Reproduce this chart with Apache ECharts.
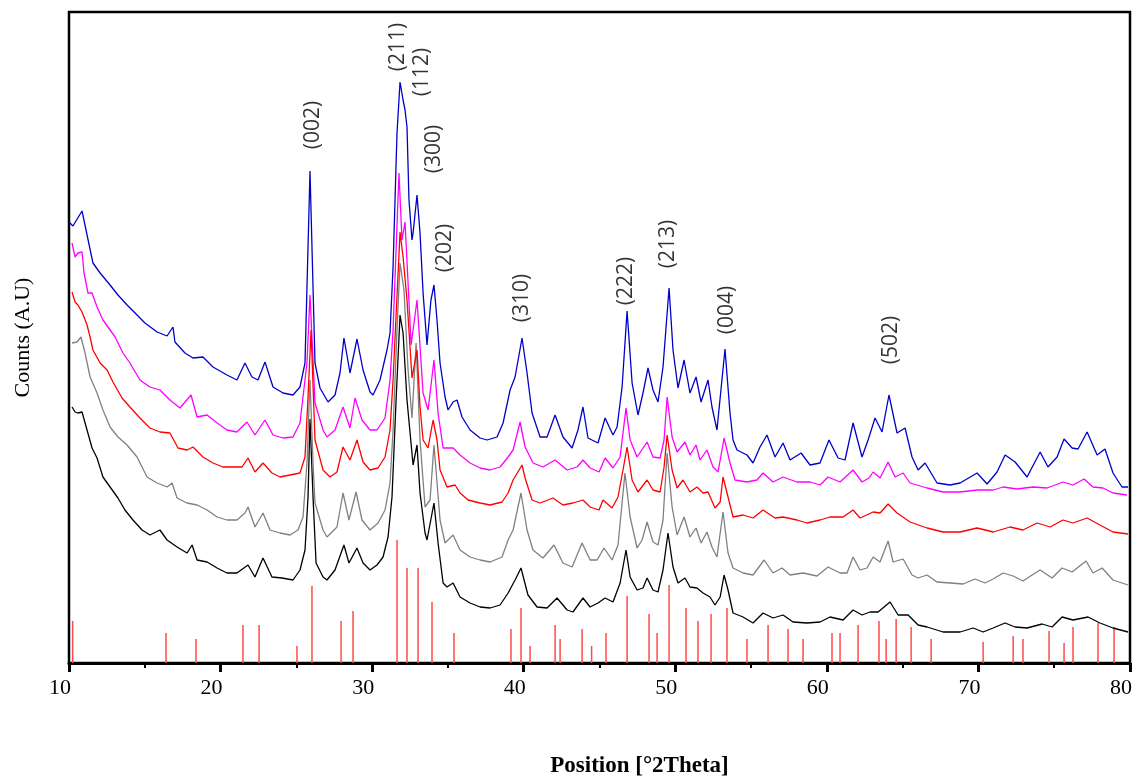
<!DOCTYPE html>
<html>
<head>
<meta charset="utf-8">
<script src="https://cdn.jsdelivr.net/npm/echarts@6/dist/echarts.min.js"></script>
<style>html,body{margin:0;padding:0;background:#fff}#c{width:1136px;height:781px}</style>
</head>
<body>
<div id="c"></div>
<script>
// x: 2Theta (deg), y: counts (arbitrary units, offset traces)
const blueCurve = [[10.0,441],[10.26,437],[10.86,452],[11.58,400],[12.05,390],[12.71,378],[13.23,368],[13.83,358],[14.49,348],[15.01,340],[15.81,331],[16.47,327],[16.86,336],[16.99,321],[17.65,310],[18.18,305],[18.84,306],[19.5,296],[20.42,288],[21.08,283],[21.61,300],[22.07,286],[22.47,283],[22.93,301],[23.46,276],[24.12,270],[24.78,268],[25.24,276],[25.57,300],[25.9,492],[26.23,300],[26.56,275],[27.09,261],[27.55,268],[27.88,290],[28.14,325],[28.54,290],[29.0,324],[29.4,293],[29.86,271],[30.06,268],[30.52,283],[30.98,313],[31.18,330],[31.38,396],[31.64,530],[31.84,581],[32.04,563],[32.17,553],[32.3,536],[32.43,463],[32.63,423],[32.7,430],[32.96,468],[33.16,430],[33.36,370],[33.62,318],[33.88,363],[34.08,378],[34.28,343],[34.48,300],[34.81,266],[35.01,253],[35.34,261],[35.6,263],[35.93,246],[36.46,233],[37.12,225],[37.58,223],[38.24,226],[38.64,240],[39.1,273],[39.43,286],[39.89,325],[40.22,290],[40.55,250],[41.08,226],[41.54,226],[42.07,248],[42.59,226],[43.19,215],[43.58,233],[43.91,256],[44.24,225],[44.9,220],[45.37,245],[45.89,228],[46.16,236],[46.49,276],[46.82,352],[47.15,280],[47.54,248],[47.87,270],[48.2,295],[48.53,273],[48.86,261],[49.19,296],[49.59,375],[49.85,313],[50.18,275],[50.58,303],[50.97,270],[51.37,286],[51.7,261],[52.16,283],[52.42,256],[52.75,233],[53.28,314],[53.61,250],[53.81,223],[54.07,213],[54.73,208],[55.13,200],[55.59,216],[56.05,228],[56.58,206],[57.11,220],[57.57,203],[58.3,210],[58.89,198],[59.55,200],[60.14,223],[60.74,205],[61.2,203],[61.73,240],[62.32,206],[62.72,223],[63.18,245],[63.64,231],[64.1,268],[64.63,230],[65.16,235],[65.62,206],[66.02,193],[66.48,200],[67.27,180],[68.13,178],[68.79,180],[69.91,190],[70.57,179],[71.23,191],[71.76,208],[72.42,201],[73.21,186],[74.07,211],[74.59,196],[75.19,206],[75.65,224],[76.18,215],[76.57,214],[77.17,231],[77.83,208],[78.35,214],[78.88,190],[79.47,176],[79.87,176]];

const magentaCurve = [[10.2,420],[10.4,406],[10.59,410],[10.86,411],[10.99,390],[11.25,370],[11.52,370],[11.85,356],[12.24,343],[12.71,333],[13.04,326],[13.56,310],[14.02,300],[14.68,283],[15.34,276],[16.0,273],[16.66,263],[17.32,255],[18.05,268],[18.45,246],[19.11,248],[19.77,240],[20.42,233],[21.08,231],[21.74,241],[22.27,228],[22.93,243],[23.46,228],[24.12,225],[24.78,226],[25.24,240],[25.7,300],[25.9,368],[26.23,260],[26.76,233],[27.02,226],[27.55,233],[28.08,256],[28.54,235],[28.87,265],[29.33,243],[29.86,233],[30.32,233],[30.85,245],[31.18,283],[31.38,333],[31.77,490],[31.97,423],[32.17,441],[32.37,380],[32.57,318],[32.96,363],[33.36,270],[33.69,253],[34.08,303],[34.35,250],[34.68,215],[35.34,215],[35.8,208],[36.46,200],[37.12,195],[37.78,193],[38.44,196],[38.97,206],[39.3,213],[39.76,241],[40.09,216],[40.62,200],[41.27,196],[42.07,203],[42.86,193],[43.52,196],[43.91,203],[44.38,195],[44.97,191],[45.37,205],[45.89,195],[46.36,206],[46.55,230],[46.75,255],[47.02,223],[47.48,206],[48.14,221],[48.53,206],[49.0,205],[49.26,223],[49.46,266],[49.79,226],[50.12,211],[50.64,221],[50.97,208],[51.37,218],[51.63,203],[52.09,213],[52.49,196],[52.82,191],[53.22,225],[53.61,200],[53.94,183],[54.73,181],[55.39,183],[55.79,190],[56.45,181],[57.11,186],[58.03,181],[58.89,181],[59.55,178],[60.08,186],[60.87,181],[61.73,193],[62.32,181],[62.78,185],[63.05,191],[63.51,185],[64.04,201],[64.5,186],[65.03,190],[65.49,180],[66.61,175],[67.67,171],[68.79,171],[69.91,173],[70.97,173],[71.63,176],[72.55,174],[73.6,176],[74.53,175],[75.58,181],[76.24,178],[76.97,184],[77.56,176],[78.22,175],[78.88,170],[79.8,168]];

const redCurve = [[10.2,371],[10.4,361],[10.59,358],[10.86,351],[11.19,338],[11.39,326],[11.58,313],[12.05,300],[12.51,293],[12.9,281],[13.5,265],[14.02,256],[14.68,245],[15.34,235],[16.0,231],[16.66,230],[17.19,215],[17.79,213],[18.18,216],[18.84,206],[19.5,200],[20.16,196],[20.82,196],[21.41,196],[21.81,205],[22.27,191],[22.8,200],[23.39,190],[23.92,186],[24.58,188],[25.24,190],[25.57,206],[25.77,266],[25.97,333],[26.23,223],[26.76,193],[27.22,186],[27.68,191],[28.08,216],[28.54,203],[29.0,223],[29.4,201],[29.86,193],[30.39,195],[30.85,206],[31.18,233],[31.38,283],[31.84,431],[32.04,406],[32.3,363],[32.63,285],[32.96,313],[33.16,256],[33.36,223],[33.69,215],[34.02,243],[34.28,223],[34.48,193],[34.94,176],[35.47,178],[35.8,170],[36.33,163],[37.12,160],[37.78,158],[38.57,161],[38.97,170],[39.3,183],[39.89,198],[40.09,185],[40.55,163],[41.08,160],[41.93,165],[42.59,158],[43.25,160],[43.91,163],[44.38,156],[44.97,153],[45.23,163],[45.83,155],[46.22,166],[46.55,193],[46.82,216],[47.15,183],[47.54,171],[48.14,183],[48.53,173],[49.0,171],[49.26,196],[49.46,228],[49.79,193],[50.12,175],[50.51,183],[50.97,171],[51.43,176],[51.83,170],[52.16,171],[52.62,155],[52.96,161],[53.15,186],[53.48,166],[53.81,146],[54.47,148],[55.13,145],[55.79,153],[56.58,145],[57.11,146],[58.03,143],[58.69,140],[59.55,143],[60.21,146],[61.07,146],[61.73,153],[62.19,145],[63.05,151],[63.51,150],[64.04,159],[64.63,150],[65.49,141],[66.61,135],[67.67,131],[68.79,131],[69.91,135],[70.97,131],[72.09,136],[72.94,133],[73.87,140],[74.73,136],[75.58,143],[76.24,140],[77.17,145],[78.02,138],[78.88,131],[79.87,129]];

const grayCurve = [[10.2,320],[10.53,321],[10.79,326],[11.06,310],[11.39,286],[11.85,270],[12.24,253],[12.71,236],[13.23,226],[13.83,218],[14.49,206],[15.15,186],[15.81,180],[16.47,176],[16.8,180],[17.13,165],[17.79,160],[18.45,158],[19.11,153],[19.77,146],[20.42,143],[21.08,143],[21.61,150],[21.81,156],[22.27,136],[22.8,150],[23.26,133],[23.92,130],[24.58,128],[25.11,133],[25.44,146],[25.7,200],[25.9,283],[26.1,200],[26.23,160],[26.76,133],[27.02,126],[27.68,136],[28.08,170],[28.47,143],[28.94,171],[29.33,143],[29.86,133],[30.39,140],[30.85,153],[31.18,180],[31.38,233],[31.64,333],[31.84,400],[32.1,373],[32.37,293],[32.63,245],[32.9,320],[33.16,223],[33.49,156],[33.82,163],[34.08,218],[34.48,143],[34.81,120],[35.34,128],[35.8,113],[36.46,106],[37.12,103],[37.78,101],[38.57,106],[38.97,123],[39.3,133],[39.82,170],[40.22,133],[40.61,113],[41.27,105],[42.0,118],[42.59,100],[43.19,96],[43.85,120],[44.38,103],[44.84,103],[45.3,115],[45.83,103],[46.22,118],[46.49,160],[46.68,190],[47.02,146],[47.48,115],[47.81,123],[48.14,141],[48.53,121],[48.86,118],[49.19,143],[49.46,210],[49.79,156],[50.12,128],[50.58,146],[50.97,126],[51.37,135],[51.7,120],[52.09,131],[52.42,116],[52.75,106],[53.15,151],[53.48,110],[53.81,95],[54.47,90],[55.13,88],[55.86,103],[56.45,90],[57.04,95],[57.57,88],[58.43,90],[59.35,87],[60.08,96],[60.87,90],[61.33,90],[61.73,106],[62.19,93],[62.65,95],[63.05,106],[63.51,101],[64.04,122],[64.37,101],[65.03,104],[65.62,88],[66.02,85],[66.61,88],[67.27,81],[68.13,80],[68.99,79],[69.78,84],[70.44,80],[70.97,84],[71.63,90],[72.29,87],[72.94,82],[73.54,88],[74.07,93],[74.86,85],[75.52,95],[76.18,91],[77.1,102],[77.56,90],[78.16,95],[78.88,83],[79.87,78]];

const blackCurve = [[10.2,256],[10.4,251],[10.59,250],[10.86,251],[11.19,233],[11.52,215],[11.85,205],[12.24,186],[12.71,176],[13.23,165],[13.69,153],[14.22,143],[14.82,133],[15.34,128],[16.0,133],[16.47,123],[17.13,116],[17.79,110],[18.12,118],[18.45,103],[19.11,101],[19.77,95],[20.42,90],[21.08,90],[21.81,98],[22.27,86],[22.8,105],[23.39,86],[24.05,85],[24.78,83],[25.24,93],[25.57,113],[25.77,166],[25.9,244],[26.1,166],[26.3,100],[26.76,86],[27.02,83],[27.55,93],[28.14,118],[28.47,100],[29.0,115],[29.4,100],[29.86,93],[30.32,98],[30.72,106],[31.05,126],[31.31,166],[31.58,263],[31.84,348],[32.04,330],[32.3,263],[32.7,198],[32.96,218],[33.16,170],[33.49,130],[33.62,123],[34.08,160],[34.35,120],[34.68,80],[34.94,76],[35.34,80],[35.8,66],[36.46,60],[37.12,56],[37.78,55],[38.44,58],[38.97,70],[39.43,83],[39.82,95],[40.28,68],[40.88,56],[41.54,55],[42.2,65],[42.86,53],[43.25,51],[43.91,65],[44.38,56],[44.9,60],[45.37,65],[45.89,61],[46.36,80],[46.75,113],[47.02,86],[47.48,73],[47.87,75],[48.14,85],[48.53,73],[48.86,71],[49.19,93],[49.52,130],[49.85,96],[50.18,80],[50.64,85],[50.97,76],[51.43,75],[51.83,70],[52.29,66],[52.62,58],[52.96,66],[53.22,88],[53.48,73],[53.81,50],[54.47,46],[55.13,40],[55.79,50],[56.45,45],[57.11,48],[57.77,41],[58.69,40],[59.55,41],[60.21,46],[61.07,43],[61.73,53],[62.32,48],[62.85,51],[63.38,51],[64.17,61],[64.7,48],[65.36,48],[66.02,38],[66.61,36],[67.67,31],[68.79,31],[69.65,35],[70.31,31],[70.97,35],[71.76,40],[72.42,36],[73.21,35],[74.2,39],[74.86,36],[75.52,46],[76.24,43],[77.23,46],[78.02,40],[78.88,35],[79.87,31]];

// reference pattern sticks: [2Theta, relative intensity]
const refSticks = [[10.24,42],[16.40,30],[18.38,24],[21.48,38],[22.54,38],[25.04,17],[26.03,77],[27.95,42],[28.74,52],[31.64,123],[32.30,95],[33.03,95],[33.95,61],[35.40,30],[39.16,34],[39.82,55],[40.42,17],[42.07,38],[42.40,24],[43.85,34],[44.48,17],[45.43,30],[46.82,67],[48.27,49],[48.80,30],[49.59,78],[50.71,55],[51.50,42],[52.36,49],[53.41,55],[54.73,24],[56.12,38],[57.44,34],[58.43,24],[60.34,30],[60.87,30],[62.06,38],[63.44,42],[63.91,24],[64.57,44],[65.56,36],[66.88,24],[70.31,21],[72.29,27],[72.94,24],[74.66,32],[75.65,20],[76.24,36],[77.89,40],[78.95,36]];

// peak annotations: [label, 2Theta, y]
const peakLabels = [["(002)",26.10,538],["(211)",31.71,616],["(112)",33.29,591],["(300)",34.08,514],["(202)",34.81,415],["(310)",39.89,365],["(222)",46.75,382],["(213)",49.52,419],["(004)",53.41,353],["(502)",64.24,323]];

const xTicks = {min: 10, max: 80, interval: 10};

const chart = echarts.init(document.getElementById('c'), null, {renderer: 'canvas'});

function lineSeries(data, color) {
  return {type: 'line', data: data, showSymbol: false, symbol: 'none',
    lineStyle: {color: color, width: 1.3}, itemStyle: {color: color},
    silent: true, z: 3};
}

chart.setOption({
  animation: false,
  backgroundColor: '#fff',
  grid: {left: 69, top: 12, width: 1061, height: 651, show: true,
    outerBoundsMode: 'none', containLabel: false,
    borderColor: '#000', borderWidth: 2.5, backgroundColor: 'transparent'},
  xAxis: {
    type: 'value', min: xTicks.min, max: xTicks.max, interval: xTicks.interval,
    name: 'Position [°2Theta]', nameLocation: 'middle', nameGap: 92,
    nameTextStyle: {fontFamily: 'Liberation Serif', fontWeight: 'bold', fontSize: 23, color: '#000', padding: [0, 0, 0, 80]},
    axisLine: {show: true, onZero: false, lineStyle: {color: '#000', width: 3}},
    axisTick: {show: true, inside: false, length: 9, lineStyle: {color: '#000', width: 3}},
    minorTick: {show: true, splitNumber: 2, length: 5, lineStyle: {color: '#000', width: 2}},
    axisLabel: {fontFamily: 'Liberation Serif', fontSize: 22, color: '#000', margin: 14, padding: [0, 18, 0, 0]},
    splitLine: {show: false}
  },
  yAxis: {
    type: 'value', min: 0, max: 651,
    name: 'Counts (A.U)', nameLocation: 'middle', nameGap: 35,
    nameTextStyle: {fontFamily: 'Liberation Serif', fontSize: 22, color: '#000'},
    axisLine: {show: false}, axisTick: {show: false}, axisLabel: {show: false},
    splitLine: {show: false}
  },
  series: [
    {type: 'bar', data: refSticks, barWidth: 1.5, itemStyle: {color: '#ff4a4a'}, silent: true, z: 2},
    lineSeries(blackCurve, '#000000'),
    lineSeries(grayCurve, '#808080'),
    lineSeries(magentaCurve, '#ff00ff'),
    lineSeries(redCurve, '#ff0000'),
    lineSeries(blueCurve, '#0000c8'),
    {type: 'scatter', symbolSize: 0, silent: true, z: 5,
      data: peakLabels.map(p => ({name: p[0], value: [p[1], p[2]]})),
      label: {show: true, position: 'inside', rotate: 90, formatter: '{b}',
        fontFamily: 'Open Sans', fontSize: 21, color: '#000',
        textBorderWidth: 0, textShadowBlur: 0}}
  ]
});
</script>
</body>
</html>
